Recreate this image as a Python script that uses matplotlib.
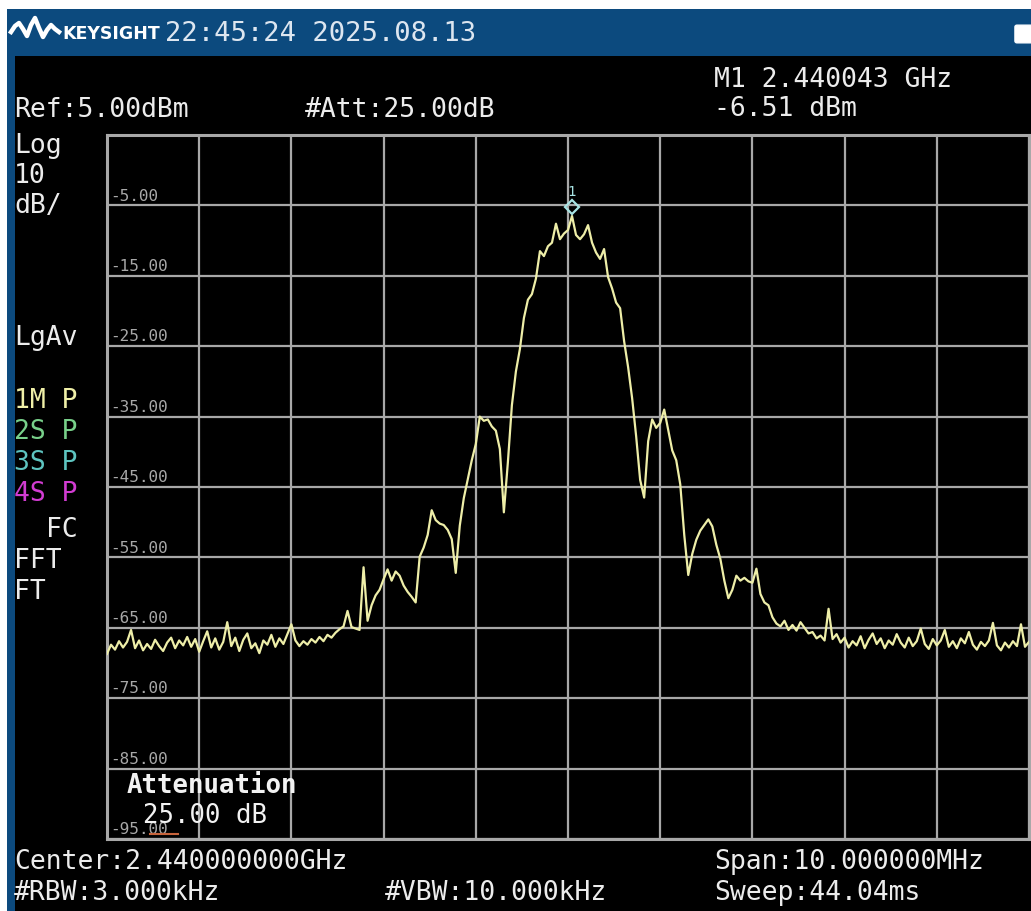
import numpy as np
import matplotlib
matplotlib.use("Agg")
import matplotlib.pyplot as plt
from matplotlib.patches import Rectangle, FancyBboxPatch
from matplotlib.lines import Line2D
import matplotlib.transforms as mtransforms

# ---- instrument settings ----
center_ghz = 2.44
span_mhz = 10.0
ref_dbm = 5.0
db_per_div = 10.0
n_div = 10

# ---- graticule level labels (dBm) ----
level_labels = [-5, -15, -25, -35, -45, -55, -65, -75, -85, -95]

# ---- measured trace (dBm), evenly spaced sweep points across the span ----
trace_dbm = [
    -68.7, -67.4, -68.1, -66.9, -67.8, -67.0, -65.3, -67.9, -66.8, -68.2,
    -67.3, -68.0, -66.7, -67.6, -68.3, -67.1, -66.4, -67.9, -66.8, -67.5,
    -66.3, -67.7, -66.6, -68.4, -66.9, -65.5, -67.8, -66.5, -68.1, -67.0,
    -64.2, -67.6, -66.4, -68.3, -66.7, -65.8, -67.9, -67.2, -68.6, -66.8,
    -67.4, -66.0, -67.7, -66.5, -67.3, -65.9, -64.5, -66.8, -67.6, -66.9,
    -67.4, -66.6, -67.1, -66.3, -66.9, -66.0, -66.4, -65.7, -65.2, -64.8,
    -62.6, -64.9, -65.1, -65.3, -56.4, -64.0, -61.8, -60.4, -59.6, -58.1,
    -56.7, -58.3, -57.0, -57.6, -59.0, -59.9, -60.6, -61.4, -54.9, -53.6,
    -51.8, -48.3, -49.7, -50.2, -50.4, -51.1, -52.4, -57.2, -50.5, -46.6,
    -43.9, -41.2, -38.9, -35.0, -35.6, -35.4, -36.4, -37.0, -39.6, -48.6,
    -41.5, -33.4, -28.6, -25.4, -21.0, -18.4, -17.6, -15.4, -11.5, -12.2,
    -10.8, -10.3, -7.6, -9.8, -9.0, -8.5, -6.5, -9.2, -9.8, -9.1,
    -7.8, -10.3, -11.7, -12.6, -11.2, -15.2, -16.8, -18.8, -19.6, -24.3,
    -28.0, -32.4, -37.8, -44.0, -46.5, -38.5, -35.4, -36.6, -35.9, -34.0,
    -36.9, -39.8, -41.2, -44.6, -51.8, -57.5, -54.5, -52.5, -51.2, -50.4,
    -49.6, -50.6, -53.2, -55.2, -58.3, -60.8, -59.6, -57.6, -58.3, -57.9,
    -58.4, -58.6, -56.6, -60.2, -61.4, -61.8, -63.5, -64.4, -64.8, -64.0,
    -65.3, -64.6, -65.4, -64.2, -65.0, -65.8, -65.6, -66.5, -66.1, -66.8,
    -62.3, -66.6, -65.9, -67.1, -66.4, -67.8, -66.9, -67.5, -66.2, -67.9,
    -66.7, -65.8, -67.3, -66.5, -67.9, -66.8, -67.4, -65.9, -67.1, -67.8,
    -66.4, -67.6, -66.9, -65.1, -67.3, -68.0, -66.6, -67.5, -66.8, -65.3,
    -67.7, -66.9, -67.9, -66.5, -67.2, -65.6, -67.4, -68.1, -67.0, -67.6,
    -66.8, -64.3, -67.5, -68.2, -67.1, -67.8, -66.9, -67.6, -64.5, -67.7,
    -67.0,
]

# ---- marker 1 ----
marker_freq_ghz = 2.440043
marker_dbm = -6.51

# ---- annotation texts ----
header_time = "22:45:24 2025.08.13"
ref_text = "Ref:5.00dBm"
att_text = "#Att:25.00dB"
marker_lines = ["M1 2.440043 GHz", "-6.51 dBm"]
scale_lines = ["Log", "10", "dB/"]
trace_rows = [("1M", "P", "#f0f0a8"), ("2S", "P", "#78d08a"),
              ("3S", "P", "#5ec4c0"), ("4S", "P", "#d23cd2")]
bottom_left = ["Center:2.440000000GHz", "#RBW:3.000kHz"]
bottom_mid = "#VBW:10.000kHz"
bottom_right = ["Span:10.000000MHz", "Sweep:44.04ms"]

W, H = 1031, 912
MONO = "DejaVu Sans Mono"


def fx(x):
    return x / W


def fy(y):
    return 1 - y / H


fig = plt.figure(figsize=(W / 100, H / 100), dpi=100)
fig.patch.set_facecolor("white")

# screen frame: blue bezel/header, black display area
fig.add_artist(Rectangle((fx(7), 0), 1 - fx(7), fy(10), transform=fig.transFigure,
                         facecolor="#0c4a7e", edgecolor="none", zorder=0))
fig.add_artist(Rectangle((fx(15), 0), 1 - fx(15), fy(57), transform=fig.transFigure,
                         facecolor="black", edgecolor="none", zorder=0))

# Keysight logo wave
logo_x = [11, 15, 19, 23, 27, 31, 35, 39, 43, 47, 51, 55, 59]
logo_y = [33, 27, 24, 30, 37, 26, 19, 29, 38, 31, 26, 30, 33]
fig.add_artist(Line2D([fx(v) for v in logo_x], [fy(v) for v in logo_y],
                      transform=fig.transFigure, color="white", lw=3.2,
                      solid_joinstyle="round", zorder=2))
fig.text(fx(62), fy(34), "KEYSIGHT", fontfamily="DejaVu Sans", fontweight="bold",
         fontsize=12.5, color="white", va="center", ha="left")
fig.text(fx(165), fy(34), header_time, fontfamily=MONO, fontsize=19.5,
         color="#dde6f0", va="center", ha="left")
fig.add_artist(FancyBboxPatch((fx(1017), fy(42)), fx(20), 14 / H,
                              boxstyle="round,pad=0.002", transform=fig.transFigure,
                              facecolor="white", edgecolor="white", zorder=2))

# ---- graticule ----
left, right, top, bottom = 107, 1029, 136, 840
ax = fig.add_axes([fx(left), fy(bottom), (right - left) / W, (bottom - top) / H])
ax.set_facecolor("black")
f_start = center_ghz - span_mhz / 2000
f_stop = center_ghz + span_mhz / 2000
bottom_dbm = ref_dbm - n_div * db_per_div
ax.set_xlim(f_start, f_stop)
ax.set_ylim(bottom_dbm, ref_dbm)
ax.set_xticks(np.linspace(f_start, f_stop, n_div + 1))
ax.set_yticks(np.linspace(bottom_dbm, ref_dbm, n_div + 1))
ax.tick_params(length=0, labelleft=False, labelbottom=False)
ax.grid(True, color="#a8a8a8", lw=1.6)
for sp in ax.spines.values():
    sp.set_color("#a8a8a8")
    sp.set_linewidth(2.2)

label_tf = mtransforms.blended_transform_factory(ax.transAxes, ax.transData)
for lv in level_labels:
    ax.text(0.004, lv + 0.4, f"{lv:.2f}", transform=label_tf, fontfamily=MONO,
            fontsize=11.5, color="#a8a8a8", va="bottom", ha="left", zorder=3)

freqs = np.linspace(f_start, f_stop, len(trace_dbm))
ax.plot(freqs, trace_dbm, color="#eeeea8", lw=1.6, zorder=4)

# marker 1 diamond sits just above the trace point
mk_tf = mtransforms.offset_copy(ax.transData, fig=fig, y=9, units="dots")
ax.plot([marker_freq_ghz], [marker_dbm], transform=mk_tf, marker="D", ms=7,
        mfc="none", mec="#a8e4e4", mew=1.6, zorder=5)
ax.text(marker_freq_ghz, marker_dbm, "1", transform=mtransforms.offset_copy(
    ax.transData, fig=fig, y=18, units="dots"), fontfamily=MONO, fontsize=10,
    color="#a8e4e4", ha="center", va="bottom", zorder=5)

# overlay messages inside the graticule
fig.text(fx(127), fy(786), "Attenuation", fontfamily=MONO, fontweight="bold",
         fontsize=18.5, color="#f2f2f2", va="center", ha="left", zorder=6)
fig.text(fx(143), fy(816), "25.00 dB", fontfamily=MONO, fontsize=18.5,
         color="#f2f2f2", va="center", ha="left", zorder=6)
fig.add_artist(Line2D([fx(150), fx(178)], [fy(835), fy(835)], transform=fig.transFigure,
                      color="#c8643c", lw=1.5, zorder=6))

# ---- surrounding annotations ----
txt = dict(fontfamily=MONO, fontsize=19, color="#ececec", va="center", ha="left")
fig.text(fx(14), fy(110), ref_text, **txt)
fig.text(fx(305), fy(110), att_text, **txt)
fig.text(fx(714), fy(80), marker_lines[0], **txt)
fig.text(fx(714), fy(109), marker_lines[1], **txt)
for i, s in enumerate(scale_lines):
    fig.text(fx(14), fy(146 + 30 * i), s, **txt)
fig.text(fx(14), fy(338), "LgAv", **txt)
for i, (name, det, col) in enumerate(trace_rows):
    d = dict(txt)
    d["color"] = col
    fig.text(fx(14), fy(401 + 31 * i), f"{name} {det}", **d)
fig.text(fx(46), fy(530), "FC", **txt)
fig.text(fx(14), fy(561), "FFT", **txt)
fig.text(fx(14), fy(592), "FT", **txt)

fig.text(fx(14), fy(862), bottom_left[0], **txt)
fig.text(fx(14), fy(893), bottom_left[1], **txt)
fig.text(fx(385), fy(893), bottom_mid, **txt)
fig.text(fx(714), fy(862), bottom_right[0], **txt)
fig.text(fx(714), fy(893), bottom_right[1], **txt)

fig.savefig("out.png", dpi=100, facecolor=fig.get_facecolor())
